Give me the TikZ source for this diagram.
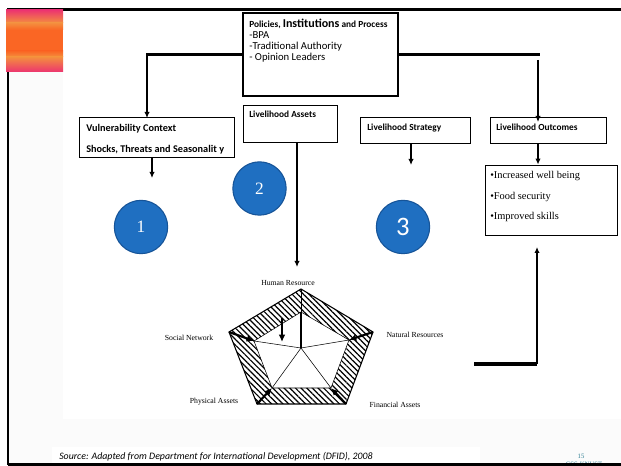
\documentclass[tikz,border=0pt]{standalone}
\usepackage{fontspec}
\setmainfont{Carlito}
\newfontfamily\timesfont{Liberation Serif}
\usetikzlibrary{arrows.meta,positioning,fit,patterns.meta,calc}

\definecolor{dotblue}{RGB}{31,111,193}
\definecolor{dotedge}{RGB}{22,84,152}
\definecolor{slidepink}{RGB}{236,52,112}
\definecolor{slideorange}{RGB}{250,102,36}
\definecolor{slideamber}{RGB}{244,142,62}
\definecolor{footteal}{RGB}{46,126,146}

\tikzset{
  box/.style={draw, line width=0.75pt, inner sep=0pt},
  boxlabel/.style={anchor=base west, inner sep=0pt, font=\fontsize{7}{8}\selectfont\bfseries},
  plainlabel/.style={anchor=base west, inner sep=0pt, font=\fontsize{8}{9}\selectfont},
  itemlabel/.style={anchor=base west, inner sep=0pt, font=\timesfont\fontsize{7.8}{9}\selectfont},
  capitallabel/.style={inner sep=0pt, font=\timesfont\fontsize{5.8}{7}\selectfont},
  feed/.style={line width=1.4pt, -{Latex[length=4.5pt,width=4pt]}},
  link/.style={line width=2.2pt},
  numdot/.style={circle, draw=dotedge, fill=dotblue, line width=0.8pt, minimum size=40pt, inner sep=0pt, text=white},
  push/.style={line width=1.6pt, -{Latex[length=5.5pt,width=5pt]}},
}

\begin{document}
\begin{tikzpicture}[x=0.75pt,y=-0.75pt]
  \useasboundingbox (0,0) rectangle (621,466);
  % slide background
  \fill[white] (0,0) rectangle (621,466);
  \fill[gray!3] (8,10) rectangle (621,464);
  \fill[white] (63,10) rectangle (621,419);
  \fill[white] (52,447) rectangle (480,464);

  % footer
  \node[font=\timesfont\fontsize{5}{5}\selectfont, text=footteal] (pageno) at (581,456) {15};
  \node[font=\timesfont\fontsize{5}{5}\selectfont, text=footteal] (footer) at (584,464) {CSS-KNUST};

  % frame
  \draw[line width=1.7pt] (621,9.5) -- (8,9.5) -- (8,464.5);
  \draw[line width=2.2pt] (8,464.5) -- (621,464.5);

  % corner block
  \shade[top color=slidepink, bottom color=slideamber] (6,10) rectangle (63,23);
  \shade[top color=slideamber, bottom color=slideorange] (6,23) rectangle (63,30);
  \fill[slideorange] (6,30) rectangle (63,51);
  \shade[top color=slideorange, bottom color=slideamber] (6,51) rectangle (63,57);
  \shade[top color=slideamber, bottom color=slidepink] (6,57) rectangle (63,72);

  % boxes
  \node[box, line width=1pt, fit={(243,13) (398,96)}] (policy) {};
  \node[box, fit={(79,118) (234,158)}] (vuln) {};
  \node[box, fit={(243,106) (337,143)}] (assets) {};
  \node[box, fit={(360,118) (470,144)}] (strat) {};
  \node[box, fit={(490,118) (606,144)}] (outc) {};
  \node[box, line width=0.6pt, fit={(485,165) (617,235)}] (gains) {};

  % box texts
  \node[plainlabel] (ptitle) at (249,28) {\bfseries\fontsize{7}{9}\selectfont Policies, {\fontsize{9}{9}\selectfont Institutions} and Process};
  \foreach \t [count=\k] in {-BPA,-Traditional Authority,- Opinion Leaders}
    \node[plainlabel] (pline\k) at (249,28+11*\k) {\t};
  \node[boxlabel, font=\fontsize{7.7}{9}\selectfont\bfseries] (vtitle) at (86,132) {Vulnerability Context};
  \node[boxlabel, font=\fontsize{7.7}{9}\selectfont\bfseries] (vsub) at (86,152.5) {Shocks, Threats and Seasonalit y};
  \node[boxlabel] (atitle) at (249,117.5) {Livelihood Assets};
  \node[boxlabel] (stitle) at (367,131) {Livelihood Strategy};
  \node[boxlabel] (otitle) at (496,131) {Livelihood Outcomes};
  \foreach \t/\yy [count=\k] in {Increased well being/179, Food security/199.5, Improved skills/220}
    \node[itemlabel] (gain\k) at (490,\yy) {\textbullet\t};

  % connectors
  \coordinate (vin) at (147,118);
  \draw[link, -{Latex[length=4.5pt,width=4pt]}] (policy.west) -| (vin);
  \coordinate (rturn) at (540,54.5);
  \draw[link] (policy.east) -- (rturn);
  \coordinate (rdrop) at (538,60);
  \coordinate (ohead) at (538,122);
  \draw[feed, line width=1.2pt] (rdrop) -- (ohead);
  \coordinate (vout) at (152,178);
  \draw[feed] (vuln.south -| vout) -- (vout);
  \coordinate (sout) at (411,165);
  \draw[feed] (strat.south -| sout) -- (sout);
  \draw[feed] (outc.south -| ohead) -- (gains.north -| ohead);
  \coordinate (ain) at (297,267);
  \draw[feed, line width=1.1pt] (assets.south -| ain) -- (ain);
  \coordinate (bfrom) at (474,364);
  \coordinate (bturn) at (537,364);
  \coordinate (bin) at (537,247);
  \draw[line width=2.4pt] (bfrom) -- (bturn);
  \draw[feed, line width=1.2pt] (bturn) -- (bin);

  % numbered dots
  \foreach \n/\x/\y in {1/141/227, 2/259.5/188.5}
    \node[numdot, font=\timesfont\fontsize{13}{13}\selectfont] (dot\n) at (\x,\y) {\n};
  \node[numdot, font=\fontsize{20}{20}\selectfont] (dot3) at (403,227) {3};

  % asset pentagon
  \foreach \k/\x/\y in {1/301/289, 2/373/332, 3/346/404, 4/257/404, 5/229/332}
    \coordinate (o\k) at (\x,\y);
  \foreach \k/\x/\y in {1/301/312, 2/349/340, 3/331/388, 4/272/388, 5/254/341}
    \coordinate (i\k) at (\x,\y);
  \coordinate (ctr) at (301,348);
  \fill[pattern={Lines[angle=-45,distance=3pt,line width=0.9pt]}, even odd rule]
    (o1) -- (o2) -- (o3) -- (o4) -- (o5) -- cycle (i1) -- (i2) -- (i3) -- (i4) -- (i5) -- cycle;
  \draw[line width=0.8pt] (o1) -- (o2) -- (o3) -- (o4) -- (o5) -- cycle;
  \draw[line width=0.4pt] (i1) -- (i2) -- (i3) -- (i4) -- (i5) -- cycle;
  \foreach \k in {2,...,5}
    \draw[line width=0.4pt] (ctr) -- (i\k);
  \draw[line width=0.8pt] (ctr) -- (i1);
  \draw[line width=0.4pt] (o1) -- (i1);
  \foreach \k in {2,...,5}
    \draw[push] (o\k) -- (i\k);
  \coordinate (tin) at (282,318);
  \coordinate (tout) at (282,342);
  \draw[push] (tin) -- (tout);
  \foreach \t/\x/\y [count=\k] in {Human Resource/288/283, Social Network/189/338, Natural Resources/415/335, Physical Assets/214/402, Financial Assets/395/405}
    \node[capitallabel] (cap\k) at (\x,\y) {\t};

  % source line
  \node[anchor=base west, inner sep=0pt, font=\fontsize{7.4}{8}\selectfont\itshape] (source) at (59,459)
    {Source: Adapted from Department for International Development (DFID), 2008};
\end{tikzpicture}
\end{document}
